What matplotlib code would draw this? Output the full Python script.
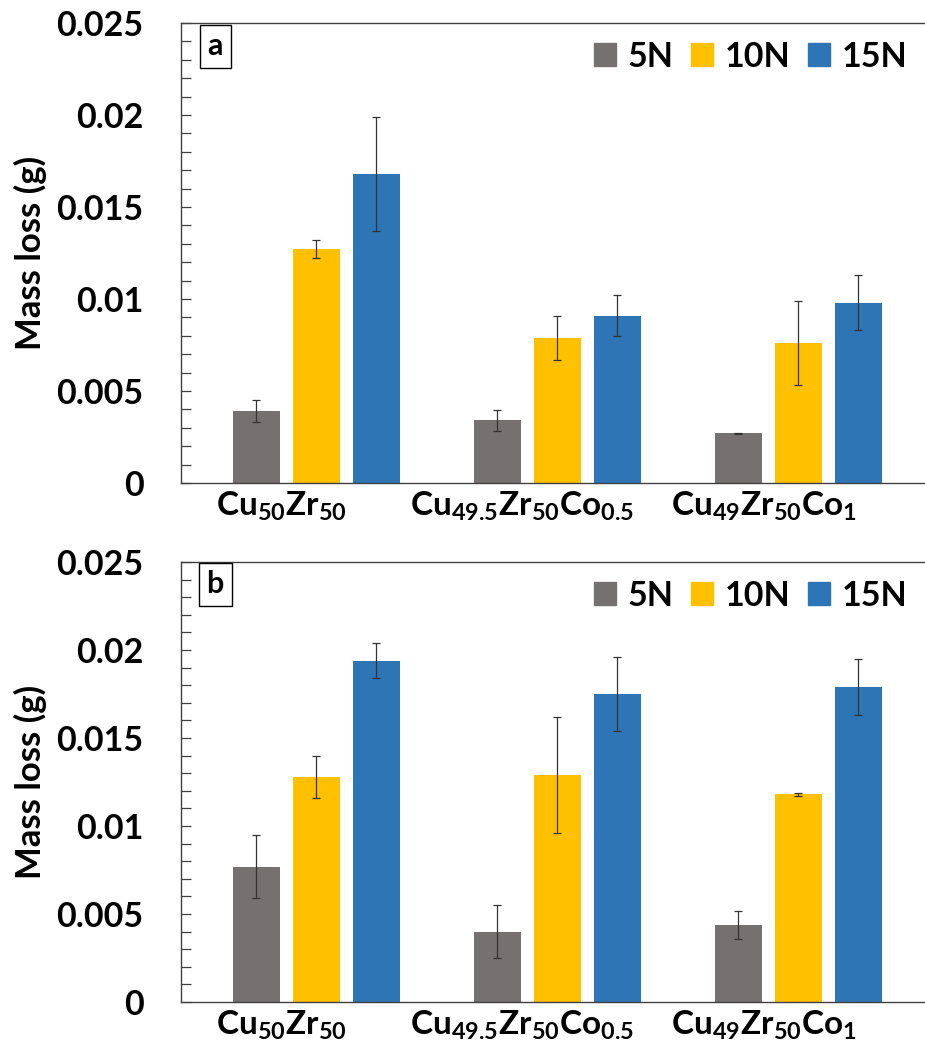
import numpy as np
import matplotlib
matplotlib.use("Agg")
import matplotlib.pyplot as plt
from matplotlib.patches import Patch
from matplotlib.ticker import MultipleLocator, FuncFormatter

plt.rcParams["font.family"] = ["Lato", "DejaVu Sans"]
plt.rcParams["font.weight"] = "bold"
plt.rcParams["mathtext.fontset"] = "custom"
plt.rcParams["mathtext.bf"] = "Lato:bold"
plt.rcParams["mathtext.rm"] = "Lato:bold"

alloys = [r"$\mathbf{Cu_{50}Zr_{50}}$",
          r"$\mathbf{Cu_{49.5}Zr_{50}Co_{0.5}}$",
          r"$\mathbf{Cu_{49}Zr_{50}Co_{1}}$"]
loads = ["5N", "10N", "15N"]
colors = ["#767171", "#FFC000", "#2E75B6"]

# panel a: mass loss (g), rows = load, cols = alloy
mass_a = [[0.0039, 0.0034, 0.0027],
          [0.0127, 0.0079, 0.0076],
          [0.0168, 0.0091, 0.0098]]
err_a = [[0.0006, 0.00055, 0.00003],
         [0.0005, 0.0012, 0.0023],
         [0.0031, 0.0011, 0.0015]]

# panel b
mass_b = [[0.0077, 0.0040, 0.0044],
          [0.0128, 0.0129, 0.0118],
          [0.0194, 0.0175, 0.0179]]
err_b = [[0.0018, 0.0015, 0.0008],
         [0.0012, 0.0033, 0.0001],
         [0.0010, 0.0021, 0.0016]]

fig = plt.figure(figsize=(9.25, 10.58), dpi=100)
ax_a = fig.add_axes([0.1957, 0.5435, 0.8043, 0.4348])
ax_b = fig.add_axes([0.1957, 0.0529, 0.8043, 0.4159])

x = np.arange(len(alloys))
width = 0.195
step = 0.249

for ax, mass, err, tag in [(ax_a, mass_a, err_a, "a"), (ax_b, mass_b, err_b, "b")]:
    for i in range(3):
        ax.bar(x + (i - 1) * step, mass[i], width, color=colors[i],
               yerr=err[i], ecolor="#333333",
               error_kw=dict(elinewidth=0.9, capsize=3, capthick=0.9))

    ax.set_xlim(-0.562, 2.525)
    ax.set_ylim(0, 0.025)
    ax.yaxis.set_major_locator(MultipleLocator(0.005))
    ax.yaxis.set_minor_locator(MultipleLocator(0.001))
    ax.yaxis.set_major_formatter(FuncFormatter(lambda v, p: f"{v:g}"))
    ax.tick_params(axis="y", which="both", direction="in", length=7,
                   width=0.9, color="#404040", labelsize=24.5, pad=27)
    ax.set_xticks(x - 0.145)
    ax.set_xticklabels(alloys, fontsize=24)
    ax.tick_params(axis="x", length=0, pad=5)
    for lab in ax.get_yticklabels():
        lab.set_fontweight("bold")

    for s in ["left", "top", "bottom"]:
        ax.spines[s].set_color("#404040")
        ax.spines[s].set_linewidth(1.0)
    ax.spines["right"].set_visible(False)

    ax.text(0.046, 0.949, tag, transform=ax.transAxes, fontsize=22,
            fontweight="bold", ha="center", va="center",
            bbox=dict(boxstyle="square,pad=0.25", fc="white", ec="black", lw=1))

    handles = [Patch(color=c, label=l) for c, l in zip(colors, loads)]
    ax.legend(handles=handles, ncol=3, loc="upper right",
              bbox_to_anchor=(1.0, 1.0), frameon=False,
              prop=dict(size=24.5, weight="bold"),
              handlelength=0.65, handleheight=0.65, handletextpad=0.35,
              columnspacing=0.5, borderaxespad=0.12)

fig.text(30 / 925, 0.5435 + 0.4348 / 2, "Mass loss (g)", rotation=90,
         ha="center", va="center", fontsize=25, fontweight="bold")
fig.text(30 / 925, 0.0529 + 0.4159 / 2, "Mass loss (g)", rotation=90,
         ha="center", va="center", fontsize=25, fontweight="bold")

plt.savefig("out.png", dpi=100)
